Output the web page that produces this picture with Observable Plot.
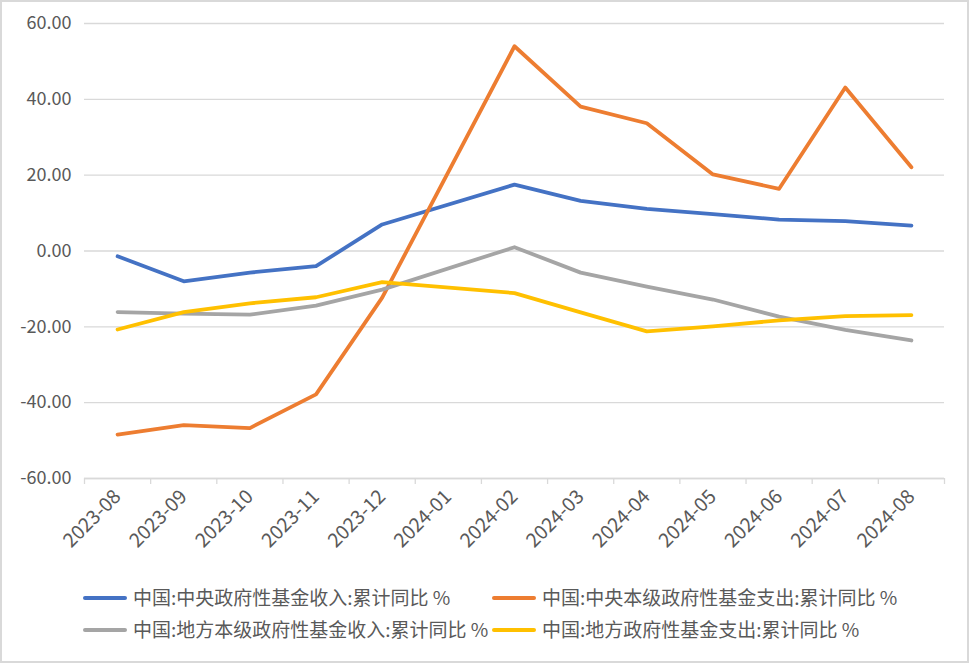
<!DOCTYPE html>
<html>
<head>
<meta charset="utf-8">
<script src="https://cdn.jsdelivr.net/npm/d3@7"></script>
<script src="https://cdn.jsdelivr.net/npm/@observablehq/plot@0.6"></script>
<style>
  html, body { margin: 0; padding: 0; background: #fff; }
  #frame { position: absolute; left: 0; top: 0; width: 969px; height: 663px; box-sizing: border-box; border: 2px solid #d9d9d9; background: #fff; }
  #chart { position: absolute; left: 0; top: 0; }
  .leg { position: absolute; font-family: "Noto Sans CJK SC", sans-serif; font-size: 19px; color: #595959; white-space: nowrap; line-height: 1; }
  .sw { position: absolute; height: 4px; border-radius: 2px; }
</style>
</head>
<body>
<div id="frame"></div>
<div id="chart"></div>
<div id="legend"></div>
<script>
const months = ["2023-08","2023-09","2023-10","2023-11","2023-12","2024-01","2024-02","2024-03","2024-04","2024-05","2024-06","2024-07","2024-08"];
// 2024-01 has no value (null)
const centralRevenue   = [-1.4, -8.0, -5.7, -4.0, 7.0, null, 17.5, 13.2, 11.1, 9.7, 8.3, 7.9, 6.7];
const centralSpending  = [-48.4, -45.9, -46.7, -37.8, -12.3, null, 54.0, 38.1, 33.7, 20.2, 16.4, 43.1, 22.1];
const localRevenue     = [-16.1, -16.5, -16.8, -14.4, -10.2, null, 1.0, -5.7, -9.4, -12.8, -17.3, -20.8, -23.6];
const localSpending    = [-20.7, -16.1, -13.8, -12.2, -8.2, null, -11.1, -16.2, -21.2, -19.9, -18.3, -17.2, -16.9];
const seriesNames = ["中国:中央政府性基金收入:累计同比 %", "中国:中央本级政府性基金支出:累计同比 %", "中国:地方本级政府性基金收入:累计同比 %", "中国:地方政府性基金支出:累计同比 %"];
const seriesColors = ["#4472C4", "#ED7D31", "#A5A5A5", "#FFC000"];
const yTicks = [-60, -40, -20, 0, 20, 40, 60];

const allSeries = [centralRevenue, centralSpending, localRevenue, localSpending];
const rows = [];
allSeries.forEach((vals, s) => {
  vals.forEach((v, i) => {
    if (v !== null) rows.push({series: seriesNames[s], i, value: v});
  });
});
const monthIdx = months.map((m, i) => i);
const boundaries = d3.range(months.length + 1).map(i => i - 0.5);

const font = '"Noto Sans CJK SC", sans-serif';
const plot = Plot.plot({
  width: 969,
  height: 575,
  marginLeft: 84,
  marginRight: 25,
  marginTop: 23,
  marginBottom: 97,
  style: { fontFamily: font, fontSize: "18px", color: "#595959", background: "transparent" },
  x: { type: "linear", domain: [-0.5, months.length - 0.5] },
  y: { domain: [-60, 60] },
  color: { domain: seriesNames, range: seriesColors },
  marks: [
    Plot.gridY(yTicks, { stroke: "#d9d9d9", strokeOpacity: 1, strokeWidth: 1.3 }),
    Plot.ruleY([-60], { stroke: "#d9d9d9", strokeWidth: 1.3 }),
    Plot.axisY(yTicks, { tickSize: 0, tickPadding: 13, tickFormat: d => d.toFixed(2), fill: "#595959", fontSize: 18, label: null }),
    Plot.axisX(boundaries, { tickSize: 6, tickFormat: () => "", stroke: "#d9d9d9", strokeWidth: 1.3, label: null }),
    Plot.axisX(monthIdx, { tickSize: 0, tickPadding: 15, tickRotate: -45, tickFormat: i => months[i], fill: "#595959", fontSize: 19.5, label: null }),
    Plot.lineY(rows, { x: "i", y: "value", z: "series", stroke: "series", strokeWidth: 3.8, strokeLinejoin: "round", strokeLinecap: "round" })
  ]
});
document.getElementById("chart").appendChild(plot);

// legend
const legend = document.getElementById("legend");
const pos = [[83, 598], [492, 598], [83, 630], [492, 630]];
seriesNames.forEach((name, k) => {
  const [x, y] = pos[k];
  const sw = document.createElement("div");
  sw.className = "sw";
  sw.style.left = x + "px";
  sw.style.top = (y - 2) + "px";
  sw.style.width = "44px";
  sw.style.background = seriesColors[k];
  legend.appendChild(sw);
  const t = document.createElement("div");
  t.className = "leg";
  t.style.left = (x + 50) + "px";
  t.style.top = (y - 11) + "px";
  t.textContent = name;
  legend.appendChild(t);
});
</script>
</body>
</html>
